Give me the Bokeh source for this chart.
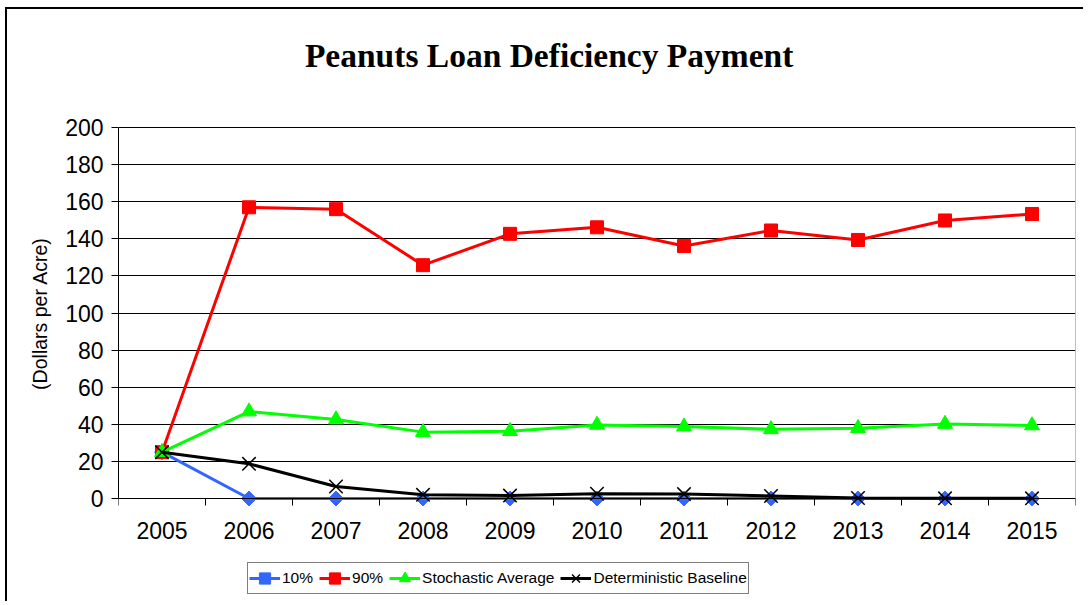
import math
from bokeh.plotting import figure
from bokeh.models import FixedTicker, Legend, LegendItem, Label
from bokeh.embed import file_html
from bokeh.resources import INLINE

years = [2005, 2006, 2007, 2008, 2009, 2010, 2011, 2012, 2013, 2014, 2015]
p10 = [25, 0, 0, 0, 0, 0, 0, 0, 0, 0, 0]
p90 = [25, 157, 156, 125.8, 142.7, 146.2, 136.1, 144.5, 139.4, 149.9, 153.4]
stoch_avg = [25, 46.9, 42.6, 35.8, 36.3, 39.7, 38.8, 37.3, 37.9, 40.2, 39.4]
det_base = [25, 18.7, 6.5, 2.0, 1.6, 2.6, 2.4, 1.4, 0.3, 0.1, 0.1]
series_names = ["10%", "90%", "Stochastic Average", "Deterministic Baseline"]
y_ticks = [0, 20, 40, 60, 80, 100, 120, 140, 160, 180, 200]
title_text = "Peanuts Loan Deficiency Payment"

p = figure(width=1078, height=594, output_backend="svg", toolbar_location=None,
           x_range=(2004.5, 2015.5), y_range=(-55.5, 255.0),
           min_border_left=111, min_border_right=10, min_border_top=16, min_border_bottom=2)
p.styles = {"border-left": "2px solid black", "border-top": "2px solid black",
            "margin-left": "5px", "margin-top": "7px"}

p.add_layout(Label(x=2009.45, y=238.8, text=title_text, text_font="Liberation Serif",
                   text_font_style="bold", text_font_size="33.5px", text_color="black",
                   text_align="center", text_baseline="middle"))

p.outline_line_color = None

# axes
p.xaxis.fixed_location = 0
p.xaxis.ticker = FixedTicker(ticks=years, minor_ticks=[y - 0.5 for y in years] + [years[-1] + 0.5])
p.xaxis.major_label_overrides = {y: str(y) for y in years}
p.xaxis.major_tick_out = 0
p.xaxis.major_tick_in = 0
p.xaxis.minor_tick_out = 7
p.xaxis.minor_tick_in = 0
p.xaxis.minor_tick_line_color = "black"
p.xaxis.major_label_standoff = 16
p.xaxis.major_label_text_font = "Liberation Sans"
p.xaxis.major_label_text_font_size = "23px"
p.xaxis.major_label_text_color = "black"
p.xaxis.axis_line_color = "black"

p.yaxis.ticker = FixedTicker(ticks=y_ticks)
p.yaxis.bounds = (0, 200)
p.yaxis.major_tick_out = 7
p.yaxis.major_tick_in = 0
p.yaxis.minor_tick_out = 0
p.yaxis.minor_tick_in = 0
p.yaxis.major_label_standoff = 8
p.yaxis.major_label_text_font = "Liberation Sans"
p.yaxis.major_label_text_font_size = "23px"
p.yaxis.major_label_text_color = "black"
p.yaxis.axis_line_color = "black"
p.yaxis.axis_label = "(Dollars per Acre)"
p.yaxis.axis_label_text_font = "Liberation Sans"
p.yaxis.axis_label_text_font_style = "normal"
p.yaxis.axis_label_text_font_size = "19.5px"
p.yaxis.axis_label_text_color = "black"
p.yaxis.axis_label_standoff = 11

p.xgrid.grid_line_color = None
p.ygrid.ticker = FixedTicker(ticks=y_ticks)
p.ygrid.grid_line_color = "black"
p.ygrid.grid_line_width = 1

# right edge of plot area
p.segment(x0=[2015.5], y0=[0], x1=[2015.5], y1=[200], line_color="#808080", line_width=1)

colors = ["#3366FF", "#FF0000", "#00FF00", "#000000"]
markers = ["square", "square", "triangle", "x"]
angles = [math.pi / 4, 0, 0, 0]
sizes = [10.5, 13, 15, 19]
data = [p10, p90, stoch_avg, det_base]

items = []
for name, vals, c, m, a, s in zip(series_names, data, colors, markers, angles, sizes):
    r1 = p.line(years, vals, line_color=c, line_width=3)
    if m == "x":
        r2 = p.scatter(years, vals, marker=m, size=s, line_color=c, line_width=1.5)
    else:
        r2 = p.scatter(years, vals, marker=m, size=s, angle=a, fill_color=c, line_color=c)
    items.append(LegendItem(label=name, renderers=[r1, r2]))

legend = Legend(items=items, orientation="horizontal", location=(129, 7),
                label_text_font="Liberation Sans", label_text_font_size="15.5px",
                label_text_color="black", glyph_width=31, glyph_height=28,
                label_standoff=2, spacing=6, padding=1, margin=0,
                border_line_color="black", border_line_width=1,
                background_fill_color="white", background_fill_alpha=1)
p.add_layout(legend, "center")

open("out.html", "w").write(file_html(p, INLINE))
